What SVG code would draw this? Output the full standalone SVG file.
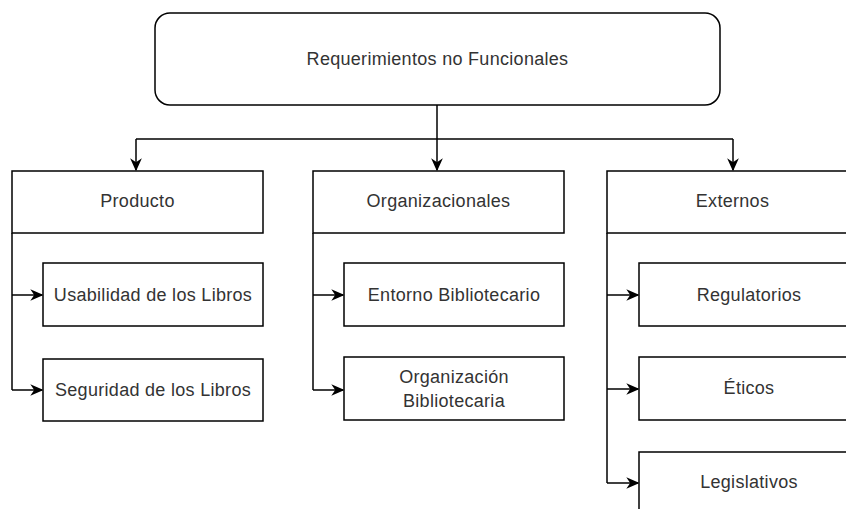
<svg xmlns="http://www.w3.org/2000/svg" width="846" height="509" viewBox="0 0 846 509">
<defs>
<marker id="arr" viewBox="0 0 10 10" refX="9" refY="5" markerWidth="13" markerHeight="13" markerUnits="userSpaceOnUse" orient="auto">
<path d="M0,0.5 L10,5 L0,9.5 L3,5 Z" fill="#000"/>
</marker>
</defs>
<style>
.box{fill:#fff;stroke:#000;stroke-width:1.5}
.t{font-family:"Liberation Sans",Arial,sans-serif;font-size:18px;letter-spacing:0.3px;fill:#333;text-anchor:middle;dominant-baseline:central}
.c{fill:none;stroke:#000;stroke-width:1.5}
</style>
<rect width="846" height="509" fill="#fff"/>
<g id="connectors">
<path class="c" d="M437,105 V139" />
<path class="c" d="M136,139 H733" />
<path class="c" d="M136,139 V170" marker-end="url(#arr)"/>
<path class="c" d="M437,139 V170" marker-end="url(#arr)"/>
<path class="c" d="M733,139 V170" marker-end="url(#arr)"/>
<path class="c" d="M12,233 V390" />
<path class="c" d="M12,295 H42" marker-end="url(#arr)"/>
<path class="c" d="M12,390 H42" marker-end="url(#arr)"/>
<path class="c" d="M313,233 V390" />
<path class="c" d="M313,295 H343" marker-end="url(#arr)"/>
<path class="c" d="M313,390 H343" marker-end="url(#arr)"/>
<path class="c" d="M607,233 V483" />
<path class="c" d="M607,295 H638" marker-end="url(#arr)"/>
<path class="c" d="M607,389 H638" marker-end="url(#arr)"/>
<path class="c" d="M607,483 H638" marker-end="url(#arr)"/>
</g>
<g id="root"><rect class="box" x="155" y="13" width="565" height="92" rx="15"/><text class="t" x="437.5" y="59">Requerimientos no Funcionales</text></g>
<g id="producto"><rect class="box" x="12" y="171" width="251" height="62"/><text class="t" x="137.5" y="201">Producto</text></g>
<g id="usabilidad"><rect class="box" x="43" y="263" width="220" height="63"/><text class="t" x="153" y="295">Usabilidad de los Libros</text></g>
<g id="seguridad"><rect class="box" x="43" y="359" width="220" height="62"/><text class="t" x="153" y="390">Seguridad de los Libros</text></g>
<g id="organizacionales"><rect class="box" x="313" y="171" width="251" height="62"/><text class="t" x="438.5" y="201">Organizacionales</text></g>
<g id="entorno"><rect class="box" x="344" y="263" width="220" height="63"/><text class="t" x="454" y="295">Entorno Bibliotecario</text></g>
<g id="organizacion"><rect class="box" x="344" y="357" width="220" height="63"/><text class="t" x="454" y="377">Organización</text><text class="t" x="454" y="401">Bibliotecaria</text></g>
<g id="externos"><rect class="box" x="607" y="171" width="251" height="62"/><text class="t" x="732.5" y="201">Externos</text></g>
<g id="regulatorios"><rect class="box" x="639" y="263" width="220" height="63"/><text class="t" x="749" y="295">Regulatorios</text></g>
<g id="eticos"><rect class="box" x="639" y="357" width="220" height="63"/><text class="t" x="749" y="388">Éticos</text></g>
<g id="legislativos"><rect class="box" x="639" y="452" width="220" height="63"/><text class="t" x="749" y="482">Legislativos</text></g>
</svg>
